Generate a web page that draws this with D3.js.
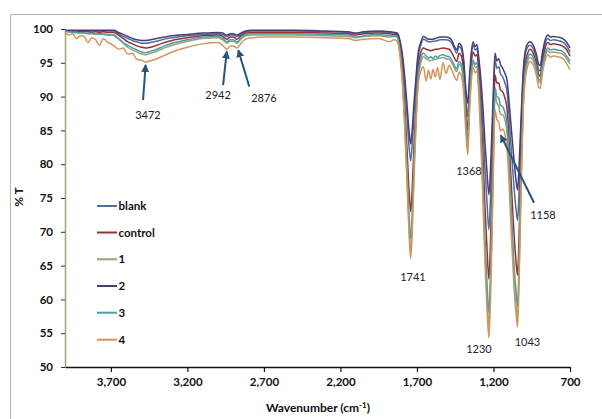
<!DOCTYPE html>
<html><head><meta charset="utf-8">
<script src="https://cdn.jsdelivr.net/npm/d3@7"></script>
<style>
body{margin:0;background:#fff}
svg{display:block}
text{font-family:Lato,"Liberation Sans",sans-serif}
</style>
</head><body>
<svg id="chart" width="602" height="419"></svg>
<script>
// ---------------- data ----------------
const wavenumber = [4000,3975,3950,3925,3900,3875,3850,3825,3800,3775,3750,3725,3700,3680,
  3650,3620,3590,3560,3530,3500,3472,3440,3400,3350,3300,3200,3100,3000,2970,2942,2920,2900,2876,2850,2820,2780,2700,2500,2300,2150,2100,2050,1950,1880,1850,
  1830,1810,1795,1780,1765,1752,1741,1730,1718,1705,1692,1675,1658,
  1640,1625,1610,1595,1580,1565,1550,1530,1510,1490,1470,1455,1440,1425,1410,
  1395,1382,1368,1358,1345,1333,1320,1308,
  1295,1282,1268,1255,1242,1230,1220,1210,1200,1190,
  1178,1165,1155,1140,1125,1112,
  1100,1088,1075,1062,1052,1043,1034,1024,1014,1004,992,978,961,
  940,920,905,895,880,862,845,828,810,780,750,725,700];

const blank = [99.8,99.7,99.7,99.7,99.7,99.7,99.7,99.7,99.7,99.7,99.7,99.7,99.7,99.7,
  99.3,98.9,98.6,98.3,98.1,97.9,97.9,98.0,98.2,98.5,98.7,99.0,99.2,99.3,99.2,98.9,99.1,99.1,98.9,99.2,99.6,99.7,99.7,99.7,99.6,99.5,99.3,99.5,99.6,99.5,99.4,
  99.3,97.9,95.6,91.8,87.0,82.7,80.5,83.3,88.0,92.4,95.8,97.6,98.5,
  98.3,98.1,98.1,98.2,98.2,98.3,98.4,98.4,98.4,98.3,97.8,97.0,96.4,97.4,97.0,
  94.8,90.2,87.0,91.2,95.8,97.6,96.9,97.1,
  94.7,90.8,85.2,79.2,74.2,70.3,74.8,81.8,89.5,95.4,
  94.2,94.4,93.4,92.9,92.0,90.8,
  87.6,83.6,79.4,75.5,73.2,71.7,75.2,81.8,88.4,93.5,96.2,97.3,97.6,
  97.1,95.7,94.0,93.8,96.0,97.9,98.6,98.3,98.4,98.3,98.1,97.6,96.6];

const control = [99.7,99.7,99.6,99.6,99.6,99.6,99.6,99.5,99.6,99.5,99.6,99.5,99.5,99.5,
  99.1,98.6,98.1,97.8,97.5,97.3,97.2,97.3,97.6,98.0,98.3,98.7,99.0,99.1,98.9,98.5,98.8,98.8,98.5,99.0,99.4,99.5,99.5,99.5,99.4,99.3,99.1,99.3,99.4,99.3,99.2,
  99.1,97.2,94.0,88.8,82.2,76.2,73.0,76.9,83.4,89.5,94.3,96.5,97.2,
  97.0,96.9,96.8,96.9,97.0,97.0,97.1,97.2,97.1,97.0,96.4,95.7,95.2,96.4,96.0,
  93.6,88.8,85.0,89.8,94.7,96.6,96.0,96.2,
  93.3,88.0,80.8,73.4,67.4,63.0,68.2,76.4,85.9,93.2,
  92.0,92.0,91.0,90.7,89.8,88.3,
  84.3,79.0,73.4,68.3,65.5,63.6,68.3,76.7,85.0,91.4,94.8,96.3,97.0,
  96.4,95.0,93.3,93.0,95.2,97.2,98.0,97.7,97.8,97.7,97.5,97.0,96.0];

const sample1 = [99.6,99.6,99.5,99.5,99.4,99.4,99.3,99.3,99.3,99.2,99.2,99.1,99.1,99.0,
  98.5,97.9,97.3,96.9,96.6,96.3,96.2,96.4,96.7,97.2,97.6,98.2,98.6,98.7,98.4,97.9,98.2,98.2,97.9,98.5,99.0,99.1,99.1,99.1,99.0,98.9,98.7,98.9,99.0,98.8,98.9,
  98.8,96.4,92.5,86.1,78.1,70.8,67.0,71.8,79.8,87.3,92.6,95.0,95.9,
  95.6,95.4,95.3,95.4,95.5,95.6,95.7,95.8,95.6,95.5,94.9,94.2,93.7,94.8,94.4,
  91.8,86.6,82.5,87.9,93.0,95.0,94.3,94.4,
  91.0,84.5,75.8,66.9,60.2,56.0,61.8,71.0,81.8,90.3,
  89.0,88.6,87.4,87.3,86.5,84.8,
  80.3,74.1,67.7,61.9,59.0,57.0,62.9,72.8,82.5,89.6,93.4,95.1,95.8,
  95.3,93.9,92.2,92.0,94.1,96.0,96.8,96.5,96.6,96.5,96.3,95.7,94.8];

const sample2 = [99.8,99.8,99.8,99.8,99.8,99.8,99.8,99.8,99.8,99.8,99.8,99.8,99.8,99.8,
  99.5,99.2,98.9,98.6,98.4,98.3,98.3,98.4,98.6,98.8,99.0,99.2,99.4,99.5,99.4,99.1,99.3,99.3,99.1,99.4,99.7,99.8,99.8,99.8,99.7,99.6,99.4,99.6,99.7,99.6,99.5,
  99.4,98.2,96.2,92.9,88.8,85.0,83.0,85.5,89.5,93.3,96.5,98.0,98.9,
  98.7,98.5,98.5,98.5,98.6,98.7,98.8,98.8,98.8,98.7,98.2,97.4,96.9,97.9,97.5,
  95.5,91.5,89.0,92.5,96.5,98.1,97.4,97.7,
  95.5,92.5,88.0,83.0,78.7,75.5,79.0,85.0,91.5,96.4,
  95.3,95.6,94.8,94.2,93.4,92.5,
  89.8,86.5,83.0,79.7,77.5,76.2,79.0,84.5,90.0,94.3,96.8,97.8,98.1,
  97.6,96.3,94.8,94.6,96.5,98.4,99.1,98.8,98.9,98.8,98.6,98.1,97.2];

const sample3 = [99.7,99.6,99.5,99.5,99.4,99.5,99.3,99.4,99.2,99.3,99.3,99.2,99.1,99.1,
  98.6,98.0,97.6,97.2,96.9,96.6,96.5,96.7,97.0,97.5,97.9,98.4,98.8,98.9,98.6,98.1,98.4,98.4,98.1,98.7,99.2,99.3,99.3,99.3,99.2,99.1,98.8,99.0,99.2,99.0,99.0,
  98.9,96.6,93.0,87.0,79.5,72.6,69.0,73.5,81.0,88.0,93.2,95.6,96.4,
  96.0,95.7,95.9,95.6,96.0,95.8,96.1,96.2,96.0,95.9,95.3,94.6,94.1,95.2,94.8,
  92.3,87.4,83.5,88.6,93.6,95.4,94.8,95.0,
  91.8,85.6,77.3,68.8,62.3,58.0,63.7,72.6,83.0,91.3,
  90.0,89.8,88.7,88.5,87.6,86.0,
  81.6,75.6,69.4,63.8,61.0,59.0,64.6,74.1,83.3,90.3,93.9,95.6,96.3,
  95.8,94.3,92.6,92.4,94.5,96.4,97.2,96.9,97.0,96.9,96.7,96.1,95.2];

const sample4 = [99.5,99.1,99.3,98.6,99.0,98.9,98.0,98.7,98.4,97.6,98.6,98.1,97.8,97.5,
  97.0,97.2,96.3,96.4,95.5,95.4,95.1,95.3,95.6,96.1,96.6,97.3,97.8,98.0,97.6,97.0,97.5,97.5,97.2,97.9,98.5,98.7,98.8,98.8,98.7,98.6,98.3,98.5,98.6,98.1,98.4,
  98.2,95.8,91.9,85.4,77.3,69.9,66.0,70.8,78.9,86.4,91.6,93.8,94.4,
  92.3,93.9,92.6,94.0,92.9,94.3,92.5,95.0,93.4,94.6,93.8,93.0,92.4,93.6,93.1,
  90.5,85.3,81.4,87.0,92.2,94.3,93.5,93.8,
  89.9,83.0,74.0,65.0,58.4,54.3,59.8,68.6,79.8,88.0,
  86.6,86.2,84.9,85.2,84.3,82.5,
  78.0,72.0,65.9,60.5,57.8,55.9,61.6,71.6,81.6,88.8,92.6,94.4,95.2,
  94.7,93.2,91.4,91.2,93.5,95.4,96.2,95.8,96.0,95.9,95.7,95.0,94.0];

const seriesNames = ["blank","control","1","2","3","4"];
const seriesValues = [blank, control, sample1, sample2, sample3, sample4];
const xTicks = [3700,3200,2700,2200,1700,1200,700];
const yTicks = [50,55,60,65,70,75,80,85,90,95,100];

// peak annotations: label, label position, optional arrow tail and tip (data units)
const annLabels = ["3472","2942","2876","1368","1158","1741","1230","1043"];
const annLabelW = [3458,3000,2700,1360,877,1726,1295,978];
const annLabelT = [87.3,90.2,89.7,78.9,72.5,63.3,52.7,53.7];
const annTailW  = [3490,2967,2796,null,935,null,null,null];
const annTailT  = [89.5,91.7,91.5,null,74.3,null,null,null];
const annTipW   = [3473,2943,2868,null,1153,null,null,null];
const annTipT   = [94.7,96.7,96.9,null,84.3,null,null,null];

// ---------------- styles ----------------
const colors = ["#4a6fa0","#963232","#97a37a","#4b3b7a","#4aa0a8","#d4955a"];

const svg = d3.select("#chart");
svg.append("rect").attr("width",602).attr("height",419).attr("fill","#fff");
// outer frame (top and left edges visible)
svg.append("path").attr("d","M10.5,440V14.5H640").attr("fill","none").attr("stroke","#b4b4b4").attr("stroke-width",1);

const x = d3.scaleLinear().domain([4000,700]).range([65,570]);
const y = d3.scaleLinear().domain([50,100]).range([367,29]);

// y axis
const gy = svg.append("g").attr("transform","translate(65,0)")
  .call(d3.axisLeft(y).tickValues(yTicks).tickSize(4).tickPadding(8).tickSizeOuter(0));
gy.select(".domain").attr("stroke","#a39e76").attr("stroke-width",1.5);
gy.selectAll(".tick line").attr("stroke","#333");
gy.selectAll(".tick text").attr("font-size",11.5).attr("font-weight","bold").attr("fill","#111");

// x axis
const gx = svg.append("g").attr("transform","translate(0,367)")
  .call(d3.axisBottom(x).tickValues(xTicks).tickSize(5).tickPadding(6).tickSizeOuter(0).tickFormat(d3.format(",")));
gx.select(".domain").attr("stroke","#111").attr("stroke-width",1.5);
gx.selectAll(".tick line").attr("stroke","#111").attr("stroke-width",1.2);
gx.selectAll(".tick text").attr("font-size",11.5).attr("font-weight","bold").attr("fill","#111");

// axis titles
svg.append("text").attr("x",318).attr("y",412).attr("text-anchor","middle")
  .attr("font-size",12).attr("font-weight","bold").attr("fill","#111")
  .html('Wavenumber (cm<tspan dy="-4" font-size="8">-1</tspan><tspan dy="4">)</tspan>');
svg.append("text").attr("transform","translate(23,197) rotate(-90)").attr("text-anchor","middle")
  .attr("font-size",12).attr("font-weight","bold").attr("fill","#111").text("% T");

// spectra
const line = d3.line().x(d => x(d[0])).y(d => y(d[1])).curve(d3.curveMonotoneX);
seriesValues.forEach((vals, i) => {
  const pts = wavenumber.map((w, k) => [w, vals[k]]);
  svg.append("path").datum(pts).attr("d", line).attr("fill","none")
    .attr("stroke", colors[i]).attr("stroke-width",1.5).attr("stroke-linejoin","round");
});

// legend
const legY = [206,232.5,259.3,286,312.7,339.7];
seriesNames.forEach((n, i) => {
  svg.append("line").attr("x1",97).attr("x2",117).attr("y1",legY[i]).attr("y2",legY[i])
    .attr("stroke",colors[i]).attr("stroke-width",2);
  svg.append("text").attr("x",118.5).attr("y",legY[i]).attr("dy","0.36em")
    .attr("font-size",11.5).attr("font-weight","bold").attr("fill","#111").text(n);
});

// annotations
const defs = svg.append("defs");
defs.append("marker").attr("id","ah").attr("viewBox","0 0 10 10").attr("refX",9).attr("refY",5)
  .attr("markerWidth",4).attr("markerHeight",4).attr("orient","auto")
  .append("path").attr("d","M0,0L10,5L0,10z").attr("fill","#245580");
annLabels.forEach((t, i) => {
  if (annTipW[i] !== null) {
    svg.append("line").attr("x1",x(annTailW[i])).attr("y1",y(annTailT[i]))
      .attr("x2",x(annTipW[i])).attr("y2",y(annTipT[i]))
      .attr("stroke","#245580").attr("stroke-width",2).attr("marker-end","url(#ah)");
  }
  svg.append("text").attr("x",x(annLabelW[i])).attr("y",y(annLabelT[i])).attr("dy","0.35em")
    .attr("text-anchor","middle").attr("font-size",11).attr("fill","#222").text(t);
});
</script>
</body></html>
